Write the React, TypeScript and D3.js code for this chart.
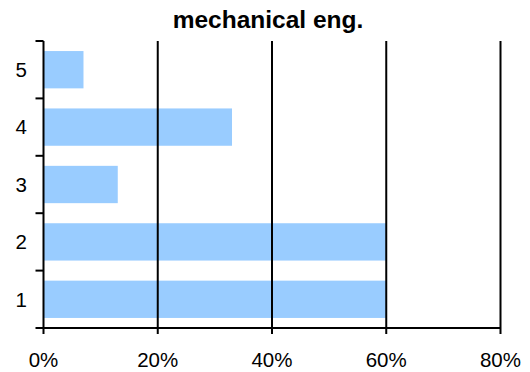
import React from "react";
import * as d3 from "d3";

const categories = ["1", "2", "3", "4", "5"];
const shares = [60, 60, 13, 33, 7];
const xTicks = [0, 20, 40, 60, 80];
const title = "mechanical eng.";

const W = 530;
const H = 372;
const plot = { left: 43.5, right: 500.5, top: 41, bottom: 328 };

export default function App() {
  const x = d3.scaleLinear().domain([0, 80]).range([plot.left, plot.right]);
  const y = d3
    .scaleBand<string>()
    .domain(categories)
    .range([plot.bottom, plot.top])
    .paddingInner(0.35)
    .paddingOuter(0.175);
  const step = y.step();
  const boundaries = d3.range(categories.length + 1).map((i) => plot.top + i * step);
  const font = "'Liberation Sans', Arial, sans-serif";

  return (
    <svg
      width={W}
      height={H}
      style={{ position: "absolute", left: 0, top: 0, background: "#fff" }}
    >
      <text
        x={268}
        y={28}
        textAnchor="middle"
        fontFamily={font}
        fontWeight="bold"
        fontSize={24.5}
        fill="#000"
      >
        {title}
      </text>

      {/* bars */}
      {categories.map((c, i) => (
        <rect
          key={c}
          x={x(0)}
          y={y(c)}
          width={x(shares[i]) - x(0)}
          height={y.bandwidth()}
          fill="#99CCFF"
        />
      ))}

      {/* vertical gridlines */}
      {xTicks.slice(1).map((t) => (
        <line
          key={t}
          x1={x(t)}
          x2={x(t)}
          y1={plot.top}
          y2={plot.bottom + 6}
          stroke="#000"
          strokeWidth={2}
        />
      ))}

      {/* x axis */}
      <line x1={x(0)} x2={x(80)} y1={plot.bottom} y2={plot.bottom} stroke="#000" strokeWidth={2} />
      {xTicks.map((t) => (
        <text
          key={t}
          x={x(t)}
          y={367}
          textAnchor="middle"
          fontFamily={font}
          fontSize={20.5}
          fill="#000"
        >
          {t}%
        </text>
      ))}

      {/* y axis */}
      <line x1={x(0)} x2={x(0)} y1={plot.top} y2={plot.bottom + 6} stroke="#000" strokeWidth={2} />
      {boundaries.map((b, i) => (
        <line key={i} x1={x(0) - 8} x2={x(0)} y1={b} y2={b} stroke="#000" strokeWidth={2} />
      ))}
      {categories.map((c) => (
        <text
          key={c}
          x={27}
          y={(y(c) ?? 0) + y.bandwidth() / 2}
          dy="0.36em"
          textAnchor="end"
          fontFamily={font}
          fontSize={20.5}
          fill="#000"
        >
          {c}
        </text>
      ))}
    </svg>
  );
}
